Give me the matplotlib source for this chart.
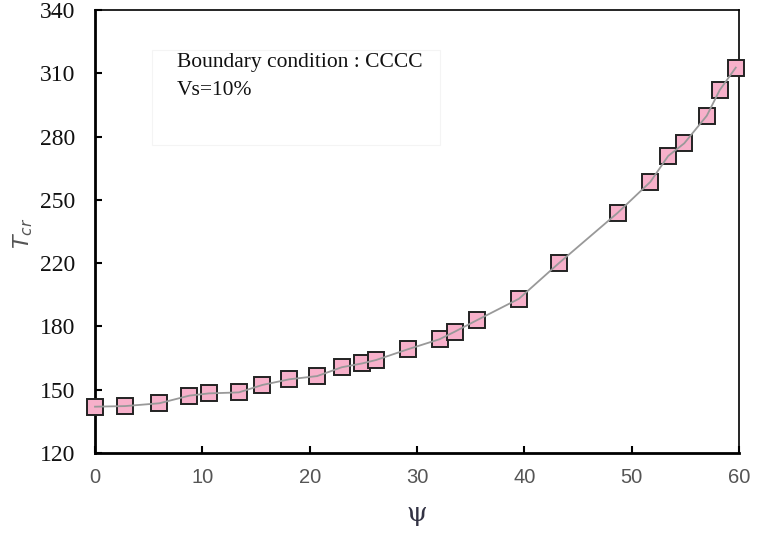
import matplotlib
matplotlib.use("Agg")
import matplotlib.pyplot as plt
import numpy as np
from matplotlib.patches import Rectangle

psi = [0.0, 2.8, 6.0, 8.8, 10.6, 13.4, 15.6, 18.1, 20.7, 23.0, 24.9, 26.2,
       29.2, 32.1, 33.5, 35.6, 39.5, 43.2, 48.7, 51.75, 53.4, 54.9, 57.0, 58.2, 59.7]
tcr = [143.0, 143.3, 144.7, 148.5, 149.6, 150.1, 153.8, 156.6, 158.2, 162.6, 164.5, 166.2,
       171.6, 176.5, 180.2, 186.0, 196.6, 214.2, 239.3, 254.7, 267.5, 273.8, 287.5, 300.2, 311.4]
xticks = [0, 10, 20, 30, 40, 50, 60]
ytick_labels = ["120", "150", "180", "220", "250", "280", "310", "340"]

fig = plt.figure(figsize=(7.67, 5.39), dpi=100)
W, H = 767, 539
ax = fig.add_axes([95 / W, 1 - 453 / H, (739 - 95) / W, (453 - 10) / H])

ax.plot(psi, tcr, linestyle="none", marker="s", markersize=11.5,
        markerfacecolor="#F7B0CA", markeredgecolor="#222222", markeredgewidth=1.4,
        zorder=3, clip_on=False)
ax.plot(psi, tcr, color="#999999", linewidth=1.3, zorder=4, clip_on=False)

ax.set_xlim(0, 60)
ax.set_ylim(120, 340)
ax.set_xticks(xticks)
ax.set_xticklabels([str(v) for v in xticks], color="#555555", fontsize=14.5,
                   family="Liberation Sans")
yt = np.linspace(120, 340, len(ytick_labels))
ax.set_yticks(yt)
ax.set_yticklabels(ytick_labels, fontsize=17, family="Liberation Serif", color="#111111")
ax.tick_params(direction="in", length=5, width=1.5)
ax.tick_params(axis="x", pad=11)
ax.tick_params(axis="y", pad=14)
for s in ["left", "bottom"]:
    ax.spines[s].set_linewidth(2.0)
for s in ["top", "right"]:
    ax.spines[s].set_linewidth(1.2)

ax.set_xlabel("ψ", fontsize=19, family="DejaVu Serif", color="#333344", labelpad=10)
fig.text(23 / W, 1 - 233 / H, r"$T_{cr}$", rotation=90, fontsize=16,
         color="#555555", ha="center", va="center", family="DejaVu Serif")

# text box
fig.patches.append(Rectangle((152 / W, 1 - 145 / H), (440 - 152) / W, (145 - 50) / H,
                             transform=fig.transFigure, facecolor="white",
                             edgecolor="#f4f4f4", linewidth=0.8, zorder=5))
fig.text(177 / W, 1 - 62 / H, "Boundary condition : CCCC", fontsize=15.5,
         family="Liberation Serif", color="#111111", va="center", zorder=6)
fig.text(177 / W, 1 - 91 / H, "Vs=10%", fontsize=15.5,
         family="Liberation Serif", color="#111111", va="center", zorder=6)

fig.savefig("out.png", dpi=100)
